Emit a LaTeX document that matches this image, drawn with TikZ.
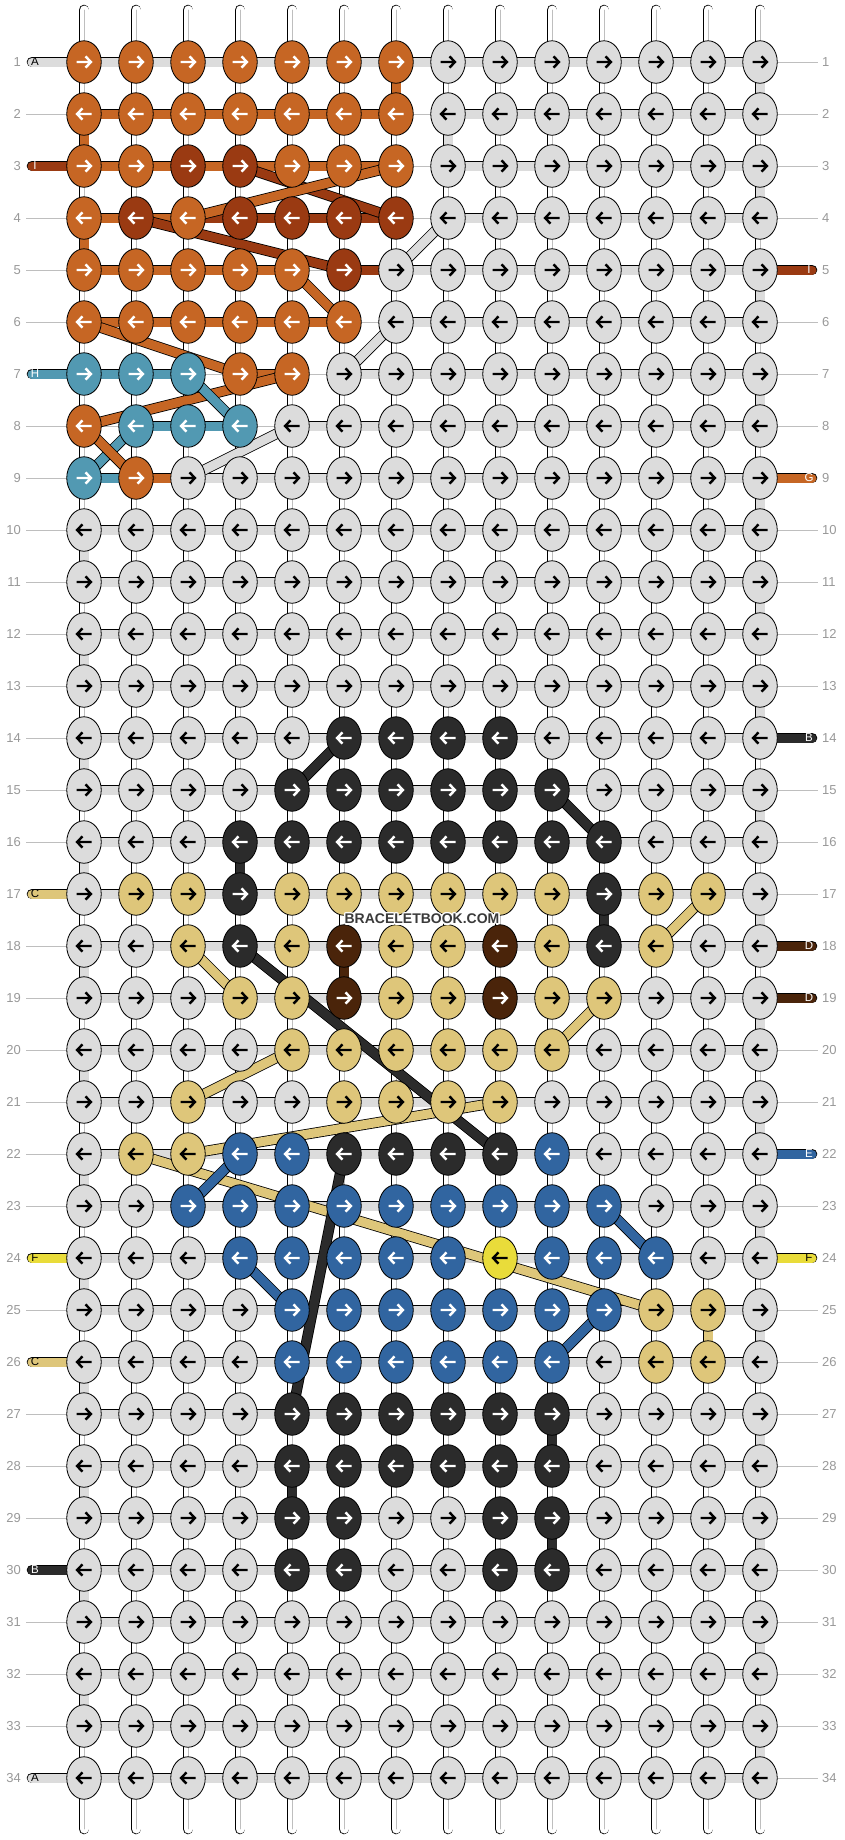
\documentclass[tikz,border=0pt]{standalone}
\usepackage{fontspec}
\setmainfont{Liberation Sans}
\usetikzlibrary{shapes.geometric}
\definecolor{kG}{HTML}{DCDCDC}
\definecolor{kO}{HTML}{C66624}
\definecolor{kR}{HTML}{9A3A12}
\definecolor{kT}{HTML}{5299B2}
\definecolor{kK}{HTML}{2B2B2B}
\definecolor{kY}{HTML}{DEC67A}
\definecolor{kD}{HTML}{4A240A}
\definecolor{kB}{HTML}{3165A0}
\definecolor{kF}{HTML}{E9DC3A}
\colorlet{aG}{black}\colorlet{aY}{black}\colorlet{aF}{black}
\colorlet{aO}{white}\colorlet{aR}{white}\colorlet{aT}{white}\colorlet{aK}{white}\colorlet{aD}{white}\colorlet{aB}{white}
\definecolor{numgray}{HTML}{999999}
\definecolor{lineg}{HTML}{BEBEBE}
\definecolor{wmgray}{HTML}{3A3A3A}
\pgfdeclarelayer{lbg}
\pgfdeclarelayer{lwarp}
\pgfdeclarelayer{ldiag}
\pgfsetlayers{lbg,lwarp,ldiag,main}
\tikzset{
 knot/.style={ellipse, draw=black, line width=0.8pt, minimum width=34.5pt, minimum height=42.5pt, inner sep=0pt},
 band/.style={draw=black, line width=0.8pt, double=#1, double distance=9pt},
 thinline/.style={draw=lineg, line width=0.8pt},
 num/.style={text=numgray, font=\fontsize{13}{15}\selectfont, inner sep=0pt},
 lab/.style={font=\fontsize{11.5}{13}\selectfont, inner sep=0pt},
 wm/.style={font=\bfseries\fontsize{14}{16}\selectfont, inner sep=0pt},
 arrowmark/.style={line width=2.4pt, draw=#1, line cap=butt},
}
\begin{document}
\begin{tikzpicture}[x=1pt,y=-1pt]
\useasboundingbox (0,0) rectangle (844,1840);
\begin{pgfonlayer}{lbg}
\fill[white] (0,0) rectangle (844,1840);
\end{pgfonlayer}
% knots
\foreach \ri/\cols in {
1/{O,O,O,O,O,O,O,G,G,G,G,G,G,G},
2/{O,O,O,O,O,O,O,G,G,G,G,G,G,G},
3/{O,O,R,R,O,O,O,G,G,G,G,G,G,G},
4/{O,R,O,R,R,R,R,G,G,G,G,G,G,G},
5/{O,O,O,O,O,R,G,G,G,G,G,G,G,G},
6/{O,O,O,O,O,O,G,G,G,G,G,G,G,G},
7/{T,T,T,O,O,G,G,G,G,G,G,G,G,G},
8/{O,T,T,T,G,G,G,G,G,G,G,G,G,G},
9/{T,O,G,G,G,G,G,G,G,G,G,G,G,G},
10/{G,G,G,G,G,G,G,G,G,G,G,G,G,G},
11/{G,G,G,G,G,G,G,G,G,G,G,G,G,G},
12/{G,G,G,G,G,G,G,G,G,G,G,G,G,G},
13/{G,G,G,G,G,G,G,G,G,G,G,G,G,G},
14/{G,G,G,G,G,K,K,K,K,G,G,G,G,G},
15/{G,G,G,G,K,K,K,K,K,K,G,G,G,G},
16/{G,G,G,K,K,K,K,K,K,K,K,G,G,G},
17/{G,Y,Y,K,Y,Y,Y,Y,Y,Y,K,Y,Y,G},
18/{G,G,Y,K,Y,D,Y,Y,D,Y,K,Y,G,G},
19/{G,G,G,Y,Y,D,Y,Y,D,Y,Y,G,G,G},
20/{G,G,G,G,Y,Y,Y,Y,Y,Y,G,G,G,G},
21/{G,G,Y,G,G,Y,Y,Y,Y,G,G,G,G,G},
22/{G,Y,Y,B,B,K,K,K,K,B,G,G,G,G},
23/{G,G,B,B,B,B,B,B,B,B,B,G,G,G},
24/{G,G,G,B,B,B,B,B,F,B,B,B,G,G},
25/{G,G,G,G,B,B,B,B,B,B,B,Y,Y,G},
26/{G,G,G,G,B,B,B,B,B,B,G,Y,Y,G},
27/{G,G,G,G,K,K,K,K,K,K,G,G,G,G},
28/{G,G,G,G,K,K,K,K,K,K,G,G,G,G},
29/{G,G,G,G,K,K,G,G,K,K,G,G,G,G},
30/{G,G,G,G,K,K,G,G,K,K,G,G,G,G},
31/{G,G,G,G,G,G,G,G,G,G,G,G,G,G},
32/{G,G,G,G,G,G,G,G,G,G,G,G,G,G},
33/{G,G,G,G,G,G,G,G,G,G,G,G,G,G},
34/{G,G,G,G,G,G,G,G,G,G,G,G,G,G}} {
  \pgfmathtruncatemacro\dir{ifthenelse(mod(\ri,2)==1,1,-1)}
  \foreach \cl [count=\ci] in \cols {
    \node[knot, fill=k\cl] (k\ri-\ci) at ({32+52*\ci},{10+52*\ri}) {};
    \begin{scope}[shift={(k\ri-\ci.center)}, xscale=\dir]
      \draw[arrowmark=a\cl] (-7.5,0) -- (6,0) (1.5,-5.6) -- (7,0) -- (1.5,5.6);
    \end{scope}
  }
}
% warp strings
\begin{pgfonlayer}{lwarp}
\foreach \ci in {1,...,14} {
  \coordinate (top\ci) at ({32+52*\ci},10);
  \coordinate (bot\ci) at ({32+52*\ci},1829);
  \draw[band=white, line cap=round] (top\ci) -- (k1-\ci.center);
  \draw[thinline, line cap=round] (top\ci) -- (k1-\ci.center);
  \draw[band=white, line cap=round] (k34-\ci.center) -- (bot\ci);
  \draw[thinline, line cap=round] (k34-\ci.center) -- (bot\ci);
  \foreach \ri in {1,...,33} {
    \pgfmathtruncatemacro\rn{\ri+1}
    \draw[band=white] (k\ri-\ci.center) -- (k\rn-\ci.center);
    \draw[thinline] (k\ri-\ci.center) -- (k\rn-\ci.center);
  }
}
% horizontal bars
\foreach \ri/\ca/\cb/\col in {1/1/13/G,
 2/1/6/O, 2/8/13/G, 3/1/6/O, 3/8/13/G,
 4/1/2/O, 4/3/6/R, 4/8/13/G,
 5/1/4/O, 5/6/6/R, 5/7/13/G,
 6/1/5/O, 6/7/13/G,
 7/1/2/T, 7/4/4/O, 7/6/13/G,
 8/2/3/T, 8/5/13/G,
 9/1/1/T, 9/2/2/O, 9/3/13/G} {
  \foreach \ci in {\ca,...,\cb} {
    \pgfmathtruncatemacro\cn{\ci+1}
    \draw[band=k\col] (k\ri-\ci.center) -- (k\ri-\cn.center);
  }
}
\foreach \ri in {10,...,34} {
  \foreach \ci in {1,...,13} {
    \pgfmathtruncatemacro\cn{\ci+1}
    \draw[band=kG] (k\ri-\ci.center) -- (k\ri-\cn.center);
  }
}
\foreach \ri/\ci in {2/7,3/7,4/7,5/5,6/6,7/3,7/5,8/1,8/4} {
  \pgfmathtruncatemacro\cn{\ci+1}
  \draw[thinline] (k\ri-\ci.center) -- (k\ri-\cn.center);
}
% vertical turns
\foreach \ci/\ri/\col in {14/1/G, 7/1/O, 1/2/O, 8/2/G, 14/3/G, 1/4/O, 14/5/G, 14/7/G,
  4/16/K, 11/17/K, 6/18/D, 13/25/Y, 10/27/K, 5/28/K, 10/29/K} {
  \pgfmathtruncatemacro\rn{\ri+1}
  \draw[band=k\col] (k\ri-\ci.center) -- (k\rn-\ci.center);
}
\foreach \ri in {9,11,...,33} {
  \pgfmathtruncatemacro\rn{\ri+1}
  \draw[band=kG] (k\ri-14.center) -- (k\rn-14.center);
}
\foreach \ri in {10,12,...,32} {
  \pgfmathtruncatemacro\rn{\ri+1}
  \draw[band=kG] (k\ri-1.center) -- (k\rn-1.center);
}
% edge thin lines
\foreach \ri in {2,4,5,6,8,9,10,11,12,13,14,15,16,18,19,20,21,22,23,25,27,28,29,31,32,33} {
  \coordinate (el\ri) at (26,{10+52*\ri});
  \draw[thinline] (el\ri) -- (k\ri-1.center);
}
\foreach \ri in {1,2,3,4,6,7,8,10,11,12,13,15,16,17,20,21,23,25,26,27,28,29,30,31,32,33,34} {
  \coordinate (er\ri) at (818,{10+52*\ri});
  \draw[thinline] (k\ri-14.center) -- (er\ri);
}
\end{pgfonlayer}
% labels
\foreach \ri/\L/\col/\tc in {1/A/kG/black, 3/I/kR/white, 7/H/kT/white, 17/C/kY/black,
  24/F/kF/black, 26/C/kY/black, 30/B/kK/white, 34/A/kG/black} {
  \coordinate (ll\ri) at (32,{10+52*\ri});
  \begin{pgfonlayer}{lwarp}
  \draw[band=\col, line cap=round] (ll\ri) -- (k\ri-1.center);
  \end{pgfonlayer}
  \node[lab, text=\tc] (lt\ri) at (35,{10+52*\ri}) {\L};
}
\foreach \ri/\L/\col/\tc in {5/I/kR/white, 9/G/kO/white, 14/B/kK/white, 18/D/kD/white,
  19/D/kD/white, 22/E/kB/white, 24/F/kF/black} {
  \coordinate (lr\ri) at (812,{10+52*\ri});
  \begin{pgfonlayer}{lwarp}
  \draw[band=\col, line cap=round] (k\ri-14.center) -- (lr\ri);
  \end{pgfonlayer}
  \node[lab, text=\tc] (rt\ri) at (809,{10+52*\ri}) {\L};
}
% diagonals
\begin{pgfonlayer}{ldiag}
\foreach \a/\b/\col in {k3-4/k4-7/R, k4-3/k3-7/O, k4-2/k5-6/R, k5-5/k6-6/O,
  k4-8/k5-7/G, k6-7/k7-6/G, k6-1/k7-4/O, k8-1/k7-5/O, k7-3/k8-4/T, k8-2/k9-1/T,
  k8-1/k9-2/O, k8-5/k9-3/G,
  k14-6/k15-5/K, k15-10/k16-11/K, k17-13/k18-12/Y, k18-3/k19-4/Y, k18-4/k22-9/K,
  k19-11/k20-10/Y, k20-5/k21-3/Y, k21-9/k22-3/Y, k22-2/k25-12/Y, k22-4/k23-3/B,
  k24-4/k25-5/B, k22-6/k27-5/K, k23-11/k24-12/B, k25-11/k26-10/B} {
  \draw[band=k\col] (\a.center) -- (\b.center);
}
\end{pgfonlayer}
% row numbers
\foreach \ri in {1,...,34} {
  \node[num, anchor=east] (nl\ri) at (21,{10+52*\ri}) {\ri};
  \node[num, anchor=west] (nr\ri) at (822,{10+52*\ri}) {\ri};
}
% watermark
\foreach \dx/\dy [count=\i] in {-1/0,1/0,0/-1,0/1,-1/-1,1/1,-1/1,1/-1,-1.5/0,1.5/0,0/-1.5,0/1.5} {
  \node[wm, text=white] (wmh\i) at ({422+\dx},{919+\dy}) {BRACELETBOOK.COM};
}
\node[wm, text=wmgray] (wm) at (422,919) {BRACELETBOOK.COM};
\end{tikzpicture}
\end{document}
